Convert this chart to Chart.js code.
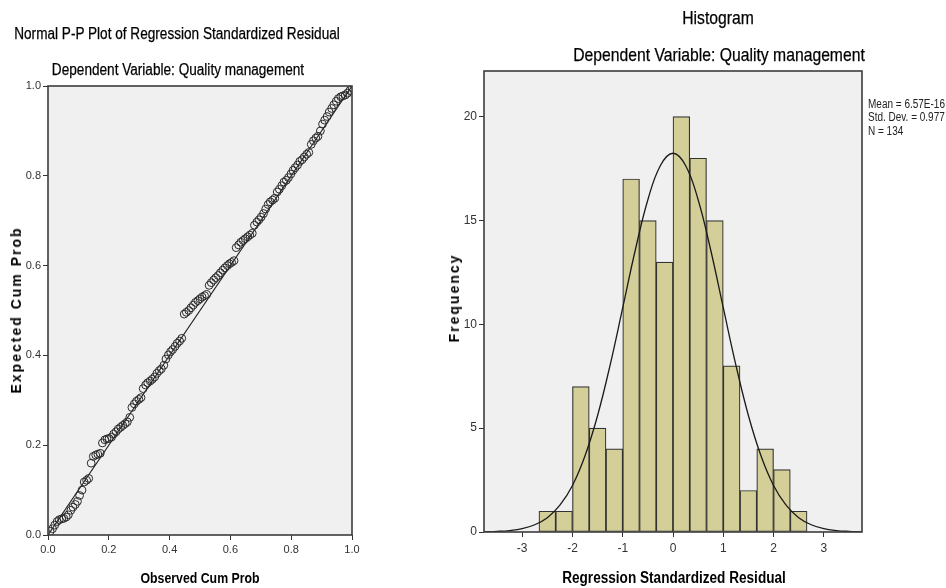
<!DOCTYPE html>
<html>
<head>
<meta charset="utf-8">
<script src="https://cdn.jsdelivr.net/npm/chart.js@4.4.1/dist/chart.umd.min.js"></script>
<style>
  body { margin: 0; background: #fff; width: 946px; height: 588px; overflow: hidden; position: relative; font-family: "Liberation Sans", Arial, sans-serif; color: #000; }
  canvas { position: absolute; top: 0; }
  .t { position: absolute; white-space: nowrap; line-height: 1; transform: translate(-50%, -50%) scaleX(0.85); -webkit-text-stroke: 0.25px #000; }
  .b { font-weight: bold; -webkit-text-stroke: 0; }
  .v { position: absolute; white-space: nowrap; line-height: 1; font-weight: bold; font-size: 14px; letter-spacing: 2px; transform: translate(-50%, -50%) rotate(-90deg); }
  .s { position: absolute; left: 868px; white-space: nowrap; line-height: 1; font-size: 12.5px; color: #222; transform-origin: 0 50%; transform: translateY(-50%) scaleX(0.8); }
</style>
</head>
<body>
<canvas id="ppChart" width="370" height="588" style="left:0"></canvas>
<canvas id="histChart" width="506" height="588" style="left:440px"></canvas>

<div class="t" style="left:177px;top:34px;font-size:16px">Normal P-P Plot of Regression Standardized Residual</div>
<div class="t" style="left:178px;top:70px;font-size:16px">Dependent Variable: Quality management</div>
<div class="v" style="left:16px;top:310px">Expected Cum Prob</div>
<div class="t b" style="left:200px;top:578px;font-size:14.5px">Observed Cum Prob</div>

<div class="t" style="left:718px;top:18px;font-size:18.5px">Histogram</div>
<div class="t" style="left:719px;top:55px;font-size:18.5px">Dependent Variable: Quality management</div>
<div class="v" style="left:454px;top:298px">Frequency</div>
<div class="t b" style="left:674px;top:578px;font-size:16px">Regression Standardized Residual</div>
<div class="s" style="top:104px">Mean = 6.57E-16</div>
<div class="s" style="top:117px">Std. Dev. = 0.977</div>
<div class="s" style="top:131px">N = 134</div>

<script>
// P-P plot: observed vs expected cumulative probabilities
const ppObserved = [
  .007, .015, .022, .030, .037, .045, .052, .060, .067, .075, .082, .090, .097, .104, .112, .119, .127, .134, .142, .149,
  .157, .164, .172, .179, .187, .194, .201, .209, .216, .224, .231, .239, .246, .254, .261, .269, .276, .284, .291, .299,
  .306, .313, .321, .328, .336, .343, .351, .358, .366, .373, .381, .388, .396, .403, .410, .418, .425, .433, .440, .448,
  .455, .463, .470, .478, .485, .493, .500, .507, .515, .522, .530, .537, .545, .552, .560, .567, .575, .582, .590, .597,
  .604, .612, .619, .627, .634, .642, .649, .657, .664, .672, .679, .687, .694, .701, .709, .716, .724, .731, .739, .746,
  .754, .761, .769, .776, .784, .791, .799, .806, .813, .821, .828, .836, .843, .851, .858, .866, .873, .881, .888, .896,
  .903, .910, .918, .925, .933, .940, .948, .955, .963, .970, .978, .985, .993, 1.000
];
const ppExpected = [
  .008, .014, .022, .030, .034, .036, .037, .040, .045, .055, .062, .068, .075, .088, .100, .118, .122, .126, .160, .175,
  .178, .180, .182, .205, .212, .214, .215, .218, .225, .230, .236, .240, .244, .248, .252, .262, .284, .292, .298, .302,
  .306, .326, .334, .339, .343, .347, .352, .360, .366, .370, .378, .392, .401, .408, .413, .420, .427, .432, .438, .492,
  .496, .500, .506, .512, .518, .522, .526, .530, .533, .536, .556, .562, .568, .573, .578, .584, .590, .595, .600, .604,
  .607, .611, .640, .646, .652, .656, .660, .664, .668, .672, .690, .697, .702, .708, .716, .726, .736, .742, .746, .750,
  .764, .770, .778, .786, .790, .796, .804, .812, .818, .824, .832, .836, .842, .848, .852, .870, .878, .884, .888, .900,
  .915, .924, .932, .942, .950, .958, .966, .972, .976, .978, .980, .984, .990, .996
];
const refLineX = [0, 1];
const refLineY = [0, 1];
const ppTicks = [0, 0.2, 0.4, 0.6, 0.8, 1.0];

// Histogram
const binMids = [-2.5, -2.1667, -1.8333, -1.5, -1.1667, -0.8333, -0.5, -0.1667, 0.1667, 0.5, 0.8333, 1.1667, 1.5, 1.8333, 2.1667, 2.5];
const frequencies = [1, 1, 7, 5, 4, 17, 15, 13, 20, 18, 15, 8, 2, 4, 3, 1];
const curveX = [-3.75, -3.5, -3.25, -3, -2.75, -2.5, -2.25, -2, -1.75, -1.5, -1.25, -1, -0.75, -0.5, -0.25, 0,
  0.25, 0.5, 0.75, 1, 1.25, 1.5, 1.75, 2, 2.25, 2.5, 2.75, 3, 3.25, 3.5, 3.75];
const curveY = [0.01, 0.03, 0.07, 0.16, 0.35, 0.69, 1.29, 2.24, 3.67, 5.61, 8.05, 10.8, 13.58, 16.0, 17.65, 18.24,
  17.65, 16.0, 13.58, 10.8, 8.05, 5.61, 3.67, 2.24, 1.29, 0.69, 0.35, 0.16, 0.07, 0.03, 0.01];
const histXTicks = [-3, -2, -1, 0, 1, 2, 3];
const histYTicks = [0, 5, 10, 15, 20];

const tickFont = { family: "'Liberation Sans Narrow', 'Liberation Sans', sans-serif", size: 11 };

const framePlugin = {
  id: 'frame',
  beforeDraw(chart) {
    const a = chart.chartArea, c = chart.ctx;
    c.save();
    c.fillStyle = '#f0f0f0';
    c.fillRect(a.left, a.top, a.right - a.left, a.bottom - a.top);
    c.restore();
  },
  afterDraw(chart) {
    const a = chart.chartArea, c = chart.ctx;
    c.save();
    c.strokeStyle = '#3c3c3c';
    c.lineWidth = 1.6;
    c.strokeRect(a.left, a.top, a.right - a.left, a.bottom - a.top);
    c.restore();
  }
};

function axis(ticks, extra) {
  return Object.assign({
    type: 'linear',
    afterBuildTicks: s => { s.ticks = ticks.map(v => ({ value: v })); },
    grid: { drawOnChartArea: false, drawTicks: true, tickLength: 5, color: '#333', offset: false },
    border: { display: false },
    ticks: { font: tickFont, color: '#333', padding: 2 }
  }, extra);
}

new Chart(document.getElementById('ppChart'), {
  type: 'scatter',
  data: {
    datasets: [
      {
        data: ppObserved.map((x, i) => ({ x: x, y: ppExpected[i] })),
        pointRadius: 3.9,
        pointBackgroundColor: 'rgba(0,0,0,0)',
        pointBorderColor: '#2a2a2a',
        pointBorderWidth: 1
      },
      {
        type: 'line',
        data: refLineX.map((x, i) => ({ x: x, y: refLineY[i] })),
        borderColor: '#222',
        borderWidth: 1.1,
        pointRadius: 0
      }
    ]
  },
  options: {
    responsive: false,
    animation: false,
    layout: { padding: { top: 86, right: 18, left: 0, bottom: 0 } },
    plugins: { legend: { display: false }, tooltip: { enabled: false } },
    scales: {
      x: axis(ppTicks, { min: 0, max: 1, afterFit: s => { s.height = 53; },
        ticks: { font: tickFont, color: '#333', padding: 3, callback: v => v.toFixed(1) } }),
      y: axis(ppTicks, { min: 0, max: 1, afterFit: s => { s.width = 48; },
        ticks: { font: tickFont, color: '#333', padding: 2, callback: v => v.toFixed(1) } })
    }
  },
  plugins: [framePlugin]
});

new Chart(document.getElementById('histChart'), {
  type: 'bar',
  data: {
    datasets: [
      {
        type: 'line',
        data: curveX.map((x, i) => ({ x: x, y: curveY[i] })),
        borderColor: '#1a1a1a',
        borderWidth: 1.3,
        pointRadius: 0,
        tension: 0.4,
        order: 0
      },
      {
        type: 'bar',
        data: binMids.map((x, i) => ({ x: x, y: frequencies[i] })),
        backgroundColor: '#d4cf99',
        borderColor: '#333',
        borderWidth: 1.2,
        borderSkipped: false,
        barPercentage: 1,
        categoryPercentage: 1,
        order: 1
      }
    ]
  },
  options: {
    responsive: false,
    animation: false,
    layout: { padding: { top: 71, right: 84, left: 0, bottom: 0 } },
    plugins: { legend: { display: false }, tooltip: { enabled: false } },
    scales: {
      x: axis(histXTicks, { min: -3.76, max: 3.76, offset: false, afterFit: s => { s.height = 56; },
        ticks: { font: { family: tickFont.family, size: 12 }, color: '#333', padding: 4 } }),
      y: axis(histYTicks, { min: 0, max: 22.2, afterFit: s => { s.width = 44; },
        ticks: { font: { family: tickFont.family, size: 12 }, color: '#333', padding: 2 } })
    }
  },
  plugins: [framePlugin]
});
</script>
</body>
</html>
